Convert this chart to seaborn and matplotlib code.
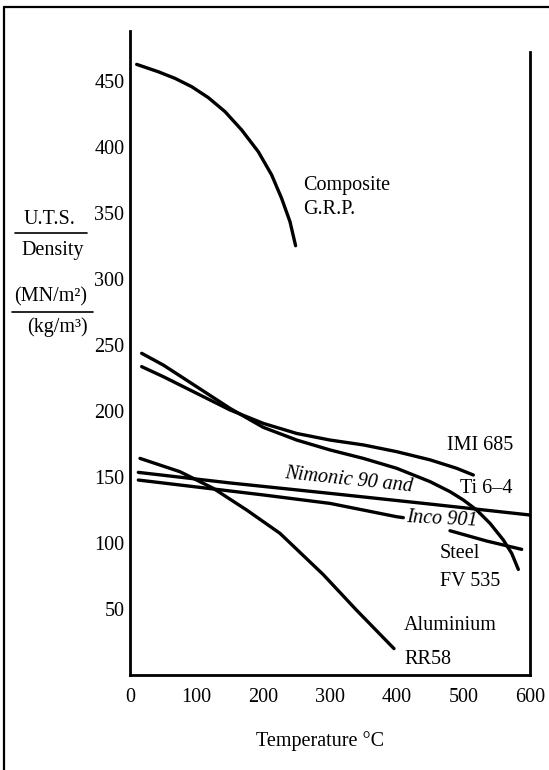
import matplotlib
matplotlib.use("Agg")
import matplotlib.pyplot as plt
from matplotlib.lines import Line2D
import numpy as np
import pandas as pd
import seaborn as sns

# ---------------- data ----------------
grp_temp = [10, 42.5, 67.5, 92.5, 117.5, 142.5, 167.5, 192.5, 212.5, 227.5, 240, 248.4]
grp_val = [462.6, 457, 452, 445.7, 437.4, 426.8, 412.9, 396.4, 378.8, 361, 343.4, 325.2]

imi_temp = [17.5, 50, 100, 150, 200, 250, 300, 350, 400, 450, 490, 515]
imi_val = [233.6, 226, 213.4, 200.8, 190.6, 183, 178, 174.3, 169.2, 163, 156.6, 151.5]

ti_temp = [17.5, 50, 100, 150, 200, 250, 300, 350, 400, 450, 480, 500, 520, 540, 560,
           572.5, 582.5]
ti_val = [243.7, 234.8, 218.4, 202, 187.6, 178, 170.5, 164.1, 156.6, 146.5, 138.9,
          132.6, 125, 114.9, 102.3, 92.2, 80]

nim_temp = [12.5, 150, 300, 450, 600]
nim_val = [153.5, 145.5, 137.6, 129.5, 121.2]

steel_temp_a = [12.5, 200, 300, 400, 410]
steel_val_a = [147.7, 136.4, 130, 119.9, 119.2]
steel_temp_b = [480, 535, 587.5]
steel_val_b = [109.3, 101.5, 95.2]

alu_temp = [15, 75, 125, 175, 225, 290, 340, 396]
alu_val = [164.1, 154, 141.4, 125, 107.3, 76, 49, 20]

x_ticks = [0, 100, 200, 300, 400, 500, 600]
y_ticks = [50, 100, 150, 200, 250, 300, 350, 400, 450]

segments = [
    ("grp", grp_temp, grp_val),
    ("imi", imi_temp, imi_val),
    ("ti", ti_temp, ti_val),
    ("nim", nim_temp, nim_val),
    ("steel_a", steel_temp_a, steel_val_a),
    ("steel_b", steel_temp_b, steel_val_b),
    ("alu", alu_temp, alu_val),
]
df = pd.concat(
    [pd.DataFrame({"segment": name, "temp": t, "value": v}) for name, t, v in segments],
    ignore_index=True,
)

# ---------------- style ----------------
sns.set_style("white")
plt.rcParams["font.family"] = ["Liberation Serif", "DejaVu Serif"]
plt.rcParams["text.color"] = "black"

W, H = 549, 770
fig = plt.figure(figsize=(W / 100, H / 100), dpi=100)
fig.patch.set_facecolor("white")

def fx(px):
    return px / W

def fy(py):
    return 1 - py / H

ax = fig.add_axes([fx(130), fy(675), 400 / W, (675 - 31) / H])
ax.set_facecolor("white")

sns.lineplot(
    data=df, x="temp", y="value", units="segment", estimator=None, sort=False,
    color="black", linewidth=2.4, ax=ax, legend=False,
)
for ln in ax.get_lines():
    ln.set_solid_capstyle("round")
    ln.set_solid_joinstyle("round")

ax.set_xlim(0, 600)
ax.set_ylim(0, 644 / 1.32)
ax.set_xticks(x_ticks)
ax.set_yticks(y_ticks)
ax.set_xticklabels([str(t) for t in x_ticks])
ax.set_yticklabels([str(t) for t in y_ticks])
ax.set_xlabel("")
ax.set_ylabel("")

for side in ["left", "bottom", "right"]:
    ax.spines[side].set_visible(True)
    ax.spines[side].set_color("black")
    ax.spines[side].set_linewidth(2.0)
ax.spines["top"].set_visible(False)
ax.spines["right"].set_bounds(0, 472)

ax.tick_params(axis="both", direction="in", length=4, width=1.5, colors="black",
               labelsize=14.5)
ax.tick_params(axis="x", pad=9)
ax.tick_params(axis="y", pad=4)
ax.tick_params(axis="y", right=False)
ax.grid(False)

fs = 14.5
# curve labels
ax.text(259.4, 370.5, "Composite", fontsize=fs, va="center", ha="left")
ax.text(259.4, 353, "G.R.P.", fontsize=fs, va="center", ha="left")
ax.text(475, 173.5, "IMI 685", fontsize=fs, va="center", ha="left")
ax.text(495, 141, "Ti 6–4", fontsize=fs, va="center", ha="left")
ax.text(232, 153, "Nimonic 90 and", fontsize=fs, va="center", ha="left",
        style="italic", rotation=-6, rotation_mode="anchor")
ax.text(414, 119, "Inco 901", fontsize=fs, va="center", ha="left",
        style="italic", rotation=-3, rotation_mode="anchor")
ax.text(465, 92.4, "Steel", fontsize=fs, va="center", ha="left")
ax.text(465, 70.5, "FV 535", fontsize=fs, va="center", ha="left")
ax.text(411, 37.5, "Aluminium", fontsize=fs, va="center", ha="left")
ax.text(411, 12, "RR58", fontsize=fs, va="center", ha="left")

# y-axis label as stacked fractions
fig.text(fx(49), fy(220), "U.T.S.", fontsize=fs, ha="center", va="center")
fig.add_artist(Line2D([fx(15), fx(87)], [fy(233), fy(233)], color="black", lw=1.2))
fig.text(fx(53), fy(250), "Density", fontsize=fs, ha="center", va="center")
fig.text(fx(51), fy(297), "(MN/m²)", fontsize=fs, ha="center", va="center")
fig.add_artist(Line2D([fx(12), fx(93)], [fy(312), fy(312)], color="black", lw=1.2))
fig.text(fx(57), fy(327), "(kg/m³)", fontsize=fs, ha="center", va="center")

# x-axis label
fig.text(fx(320.5), fy(741), "Temperature °C", fontsize=fs, ha="center", va="center")

# page border (scan frame)
fig.add_artist(Line2D([fx(4), fx(4)], [fy(7), fy(770)], color="black", lw=1.6))
fig.add_artist(Line2D([fx(4), fx(549)], [fy(7), fy(7)], color="black", lw=1.6))

fig.savefig("out.png", dpi=100, facecolor="white")
